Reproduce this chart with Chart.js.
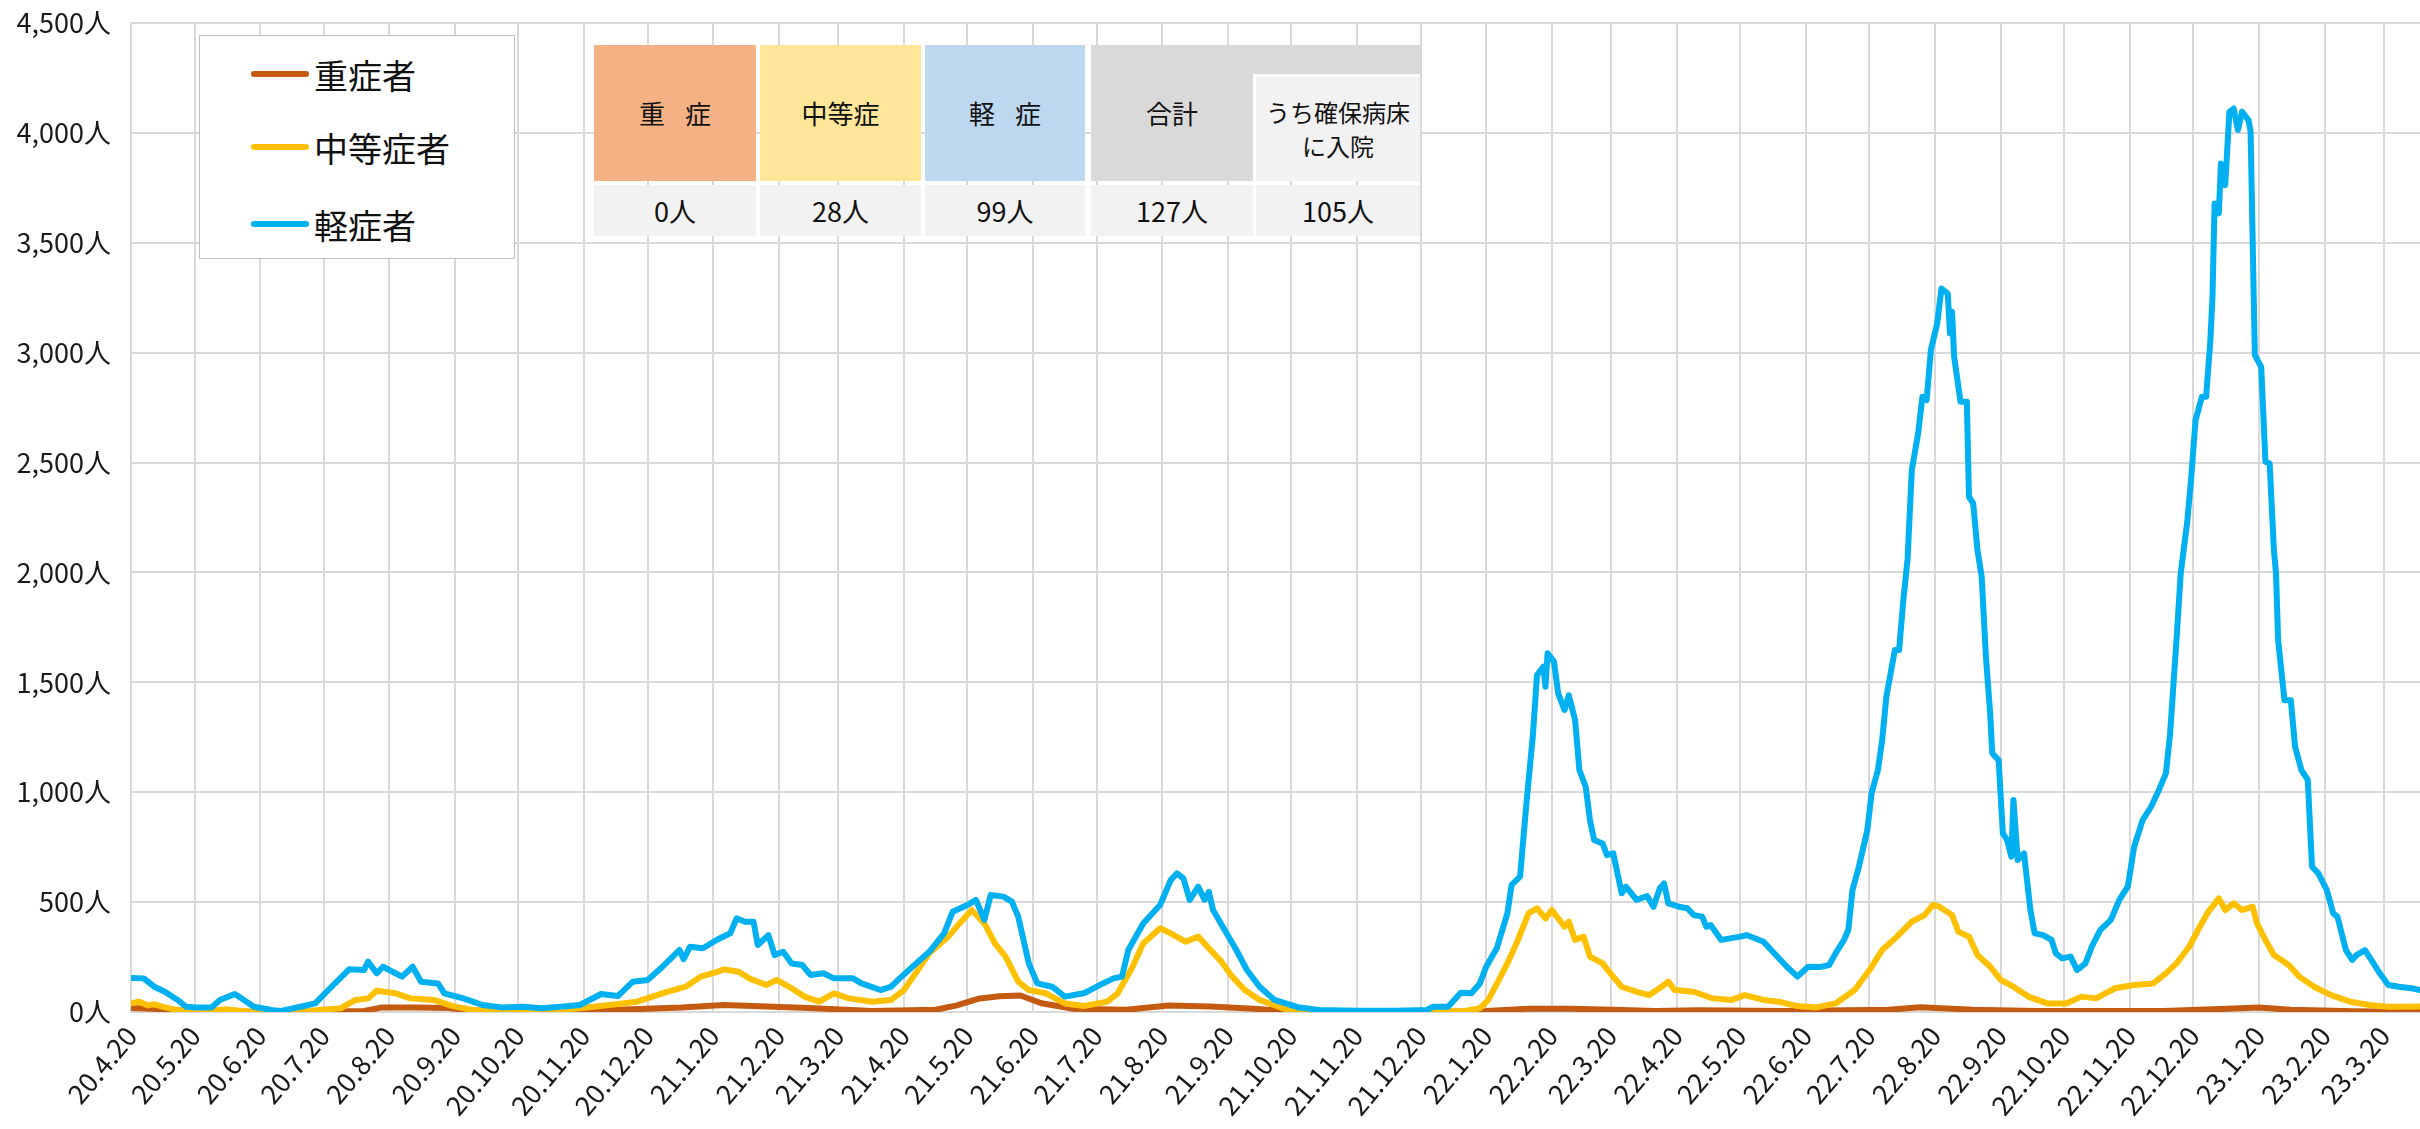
<!DOCTYPE html>
<html>
<head>
<meta charset="utf-8">
<script src="https://cdn.jsdelivr.net/npm/chart.js@4.4.0/dist/chart.umd.min.js"></script>
<style>
html,body{margin:0;padding:0;background:#fff;overflow:hidden}
#wrap{position:relative;width:2420px;height:1129px}
#c{position:absolute;left:0;top:0}
.ov{position:absolute;font-family:"Noto Sans CJK JP","Noto Sans",sans-serif;color:#111}
#legend{left:199px;top:35px;width:314px;height:222px;border:1px solid #bfbfbf;background:#fff}
.li{position:absolute;left:51px;height:44px;display:flex;align-items:center;font-size:34px;white-space:nowrap}
.sw{display:inline-block;width:58px;height:6px;border-radius:3px;margin-right:5px}
.cell{position:absolute;display:flex;align-items:center;justify-content:center;text-align:center;font-size:26px;line-height:34px;font-family:"Noto Sans CJK JP","Noto Sans",sans-serif;color:#111;word-spacing:14px}
</style>
</head>
<body>
<div id="wrap">
<canvas id="c" width="2420" height="1129"></canvas>
<div id="legend" class="ov"></div>
<div id="table"></div>
</div>
<script>
// ---- data (days since 2020-04-20) ----
const START = '20.4.20';
const xTickLabels = ['20.4.20','20.5.20','20.6.20','20.7.20','20.8.20','20.9.20','20.10.20','20.11.20','20.12.20',
 '21.1.20','21.2.20','21.3.20','21.4.20','21.5.20','21.6.20','21.7.20','21.8.20','21.9.20','21.10.20','21.11.20','21.12.20',
 '22.1.20','22.2.20','22.3.20','22.4.20','22.5.20','22.6.20','22.7.20','22.8.20','22.9.20','22.10.20','22.11.20','22.12.20',
 '23.1.20','23.2.20','23.3.20'];
const seriesNames = ['重症者','中等症者','軽症者'];
const seriesColors = ['#C55A11','#FFC000','#00B0F0'];

const severeDays = [0,10,20,40,70,110,118,135,150,160,175,200,230,260,280,300,320,350,380,390,400,410,420,430,445,470,490,510,530,545,560,620,640,660,680,700,720,740,780,830,845,860,870,900,960,990,1005,1020,1050,1081];
const severeCounts = [18,15,8,2,0,5,20,20,18,8,2,3,10,20,32,25,18,5,10,30,60,72,75,40,15,10,30,25,15,5,0,0,5,15,15,10,5,8,5,10,22,15,10,5,5,15,20,10,3,0];

const moderateDays = [0,4,8,11,16,23,31,44,58,72,85,99,106,112,116,125,132,143,152,161,175,193,212,226,239,252,262,269,277,280,287,292,300,305,312,318,325,332,339,350,359,365,370,377,386,392,397,403,408,413,419,424,432,441,450,461,466,473,478,486,491,498,504,509,515,520,526,533,544,551,561,597,630,637,641,646,650,655,660,664,668,671,677,679,682,686,689,695,698,704,711,717,724,726,729,738,747,756,762,771,778,787,796,805,814,821,827,834,841,847,851,854,860,863,868,872,878,883,889,896,905,914,921,928,937,946,955,961,966,972,977,981,986,989,993,997,1002,1004,1008,1012,1019,1024,1031,1039,1048,1057,1066,1081];
const moderateCounts = [39,47,30,35,21,6,0,12,0,0,6,17,55,62,97,85,62,55,27,9,0,0,17,32,47,88,115,161,183,194,183,153,123,146,108,70,47,85,62,47,55,100,168,267,343,411,464,403,312,252,138,100,85,39,27,47,85,206,312,381,358,320,343,290,229,161,100,55,17,2,0,0,5,17,55,146,221,328,449,472,426,464,388,411,328,343,252,221,184,115,92,77,123,138,100,92,62,55,77,55,47,27,21,39,100,191,282,343,411,441,487,479,441,365,343,259,206,146,115,70,39,39,70,62,108,123,130,176,221,297,388,456,517,464,494,464,479,403,328,259,214,161,115,77,47,32,24,25];

const mildDays = [0,6,11,16,22,26,31,38,42,49,
 51,58,67,71,80,87,94,103,110,112,
 116,119,128,133,137,145,148,157,166,175,
 185,194,203,212,222,230,237,244,251,259,
 261,264,270,277,283,286,290,294,296,301,
 304,308,312,317,321,327,332,341,345,354,
 359,363,370,377,384,388,395,399,403,406,
 412,416,419,424,428,435,441,450,459,464,
 468,471,478,486,491,494,497,500,504,507,
 509,511,516,522,527,533,540,551,561,579,
 597,612,615,622,628,633,637,640,645,650,
 652,656,659,662,664,667,668,669,672,674,
 677,679,682,684,687,689,691,695,697,700,
 702,704,706,711,716,719,722,724,726,731,
 735,738,742,744,746,751,760,763,771,776,
 782,787,792,798,802,805,809,811,813,816,
 820,822,825,827,829,831,833,835,837,839,
 841,844,846,848,850,853,855,858,859,860,
 861,864,867,868,870,872,874,876,878,879,
 882,884,886,888,889,891,894,897,899,903,
 907,909,912,916,919,923,926,930,935,939,
 943,946,950,954,957,961,963,966,968,970,
 971,973,975,978,980,982,983,984,986,987,
 989,991,993,995,997,1000,1001,1003,1006,1008,
 1010,1012,1013,1014,1017,1020,1022,1025,1028,1030,
 1033,1037,1040,1042,1046,1049,1051,1055,1058,1062,
 1066,1071,1077,1081];
const mildCounts = [155,153,115,92,55,24,21,21,55,82,
 70,24,8,5,24,39,108,194,191,229,
 176,206,161,206,138,130,85,62,32,21,
 24,17,24,32,82,73,138,146,206,282,
 240,297,290,330,358,426,411,411,305,350,
 259,274,221,214,168,176,153,153,130,100,
 115,153,214,274,358,456,487,510,419,532,
 525,502,434,221,130,115,70,85,130,153,
 161,282,403,487,600,631,608,510,570,510,
 547,464,381,282,191,115,55,22,9,6,
 6,9,24,24,88,85,130,206,290,449,
 578,616,949,1253,1533,1571,1480,1632,1594,1450,
 1374,1441,1328,1101,1025,873,782,767,714,722,
 631,540,570,510,528,479,563,585,494,479,
 472,441,434,388,396,328,343,350,320,267,
 206,161,206,205,214,267,328,373,555,661,
 828,995,1101,1237,1435,1541,1647,1647,1874,2060,
 2466,2633,2799,2784,3012,3133,3292,3269,3088,3186,
 2981,2777,2777,2344,2314,2102,1980,1617,1359,1177,
 1146,813,783,707,965,692,722,464,358,350,
 328,267,244,252,191,221,297,373,419,510,
 570,752,873,934,995,1086,1268,1692,1996,2150,
 2223,2436,2693,2799,2799,3057,3254,3679,3634,3861,
 3762,4096,4111,4013,4096,4058,4005,2989,2935,2504,
 2496,2102,1996,1692,1419,1419,1207,1101,1056,661,
 631,555,449,434,282,237,259,282,237,176,
 123,115,108,100];

const yTicks = [0,500,1000,1500,2000,2500,3000,3500,4000,4500];

const tableHeaders = ['重 症','中等症','軽 症','合計','うち確保病床<br>に入院'];
const tableValues = [0,28,99,127,105];
const tableColors = ['#F4B183','#FFE699','#BDD7EE','#D9D9D9','#F2F2F2'];

// ---- helpers ----
function toDate(s){const p=s.split('.').map(Number);return Date.UTC(2000+p[0],p[1]-1,p[2]);}
function toDay(s){return Math.round((toDate(s)-toDate(START))/86400000);}
const X_MAX = mildDays[mildDays.length-1];
const tickItems = xTickLabels.map(l=>({label:l,day:toDay(l)})).filter(t=>t.day<=X_MAX);
const pts = (d,v)=>d.map((x,i)=>({x:x,y:v[i]}));

const FONT = '"Noto Sans CJK JP","Noto Sans",sans-serif';
const GRID = '#D9D9D9';

const datasets = [
 {label:seriesNames[0],data:pts(severeDays,severeCounts),borderColor:seriesColors[0],order:2},
 {label:seriesNames[1],data:pts(moderateDays,moderateCounts),borderColor:seriesColors[1],order:1},
 {label:seriesNames[2],data:pts(mildDays,mildCounts),borderColor:seriesColors[2],order:0}
].map(d=>Object.assign(d,{borderWidth:6,pointRadius:0,tension:0,fill:false,borderCapStyle:'round',borderJoinStyle:'round'}));

const chart = new Chart(document.getElementById('c'),{
 type:'line',
 data:{datasets},
 options:{
  responsive:false,animation:false,devicePixelRatio:1,
  layout:{padding:{top:23,right:0,left:0,bottom:0}},
  plugins:{legend:{display:false},tooltip:{enabled:false}},
  scales:{
   x:{type:'linear',min:0,max:X_MAX,
    afterBuildTicks:(s)=>{s.ticks=tickItems.map(t=>({value:t.day}));},
    afterFit:(s)=>{s.height=117;},
    grid:{color:GRID,lineWidth:2,drawTicks:false},
    border:{color:GRID,width:2},
    ticks:{autoSkip:false,maxRotation:50,minRotation:50,padding:8,color:'#1a1a1a',
     font:{family:FONT,size:27},
     callback:(v,i)=>tickItems[i]?tickItems[i].label:''}
   },
   y:{type:'linear',min:0,max:4500,
    afterBuildTicks:(s)=>{s.ticks=yTicks.map(v=>({value:v}));},
    afterFit:(s)=>{s.width=131;},
    grid:{color:GRID,lineWidth:2,drawTicks:true,tickLength:20,tickColor:'rgba(0,0,0,0)'},
    border:{color:GRID,width:2},
    ticks:{padding:0,color:'#1a1a1a',font:{family:FONT,size:27},
     callback:(v)=>v.toLocaleString('en-US')+'人'}
   }
  }
 }
});
// keep plot top edge at the 4,500 line position of the reference
const dTop = 23 - chart.chartArea.top;
if (Math.abs(dTop) > 0.5) {
 chart.options.layout.padding.top = Math.max(0, 23 + dTop);
 chart.update();
}

// ---- legend ----
const lg = document.getElementById('legend');
const legendTops = [16,89,166];
seriesNames.forEach((n,i)=>{
 const d=document.createElement('div');d.className='li';d.style.top=legendTops[i]+'px';
 d.innerHTML='<span class="sw" style="background:'+seriesColors[i]+'"></span>'+n;
 lg.appendChild(d);
});

// ---- summary table ----
const tb = document.getElementById('table');
const colL=[594,760,925,1091,1256], colW=[162,161,160,162,164];
function box(l,t,w,h,bg,html,fs){
 const d=document.createElement('div');d.className='cell';
 Object.assign(d.style,{left:l+'px',top:t+'px',width:w+'px',height:h+'px',background:bg});
 if(fs)d.style.fontSize=fs+'px';
 d.innerHTML=html||'';tb.appendChild(d);return d;
}
box(1091,45,329,136,tableColors[3]);
box(1253,74,167,107,'#ffffff');
for(let i=0;i<5;i++){
 if(i===4){const c=box(colL[i],77,colW[i],104,tableColors[i],tableHeaders[i],24);c.style.wordSpacing='0';}
 else box(colL[i],45,colW[i],136,tableColors[i],tableHeaders[i],26);
 box(colL[i],185,colW[i],51,'#F2F2F2',tableValues[i]+'人',27);
}
</script>
</body>
</html>
